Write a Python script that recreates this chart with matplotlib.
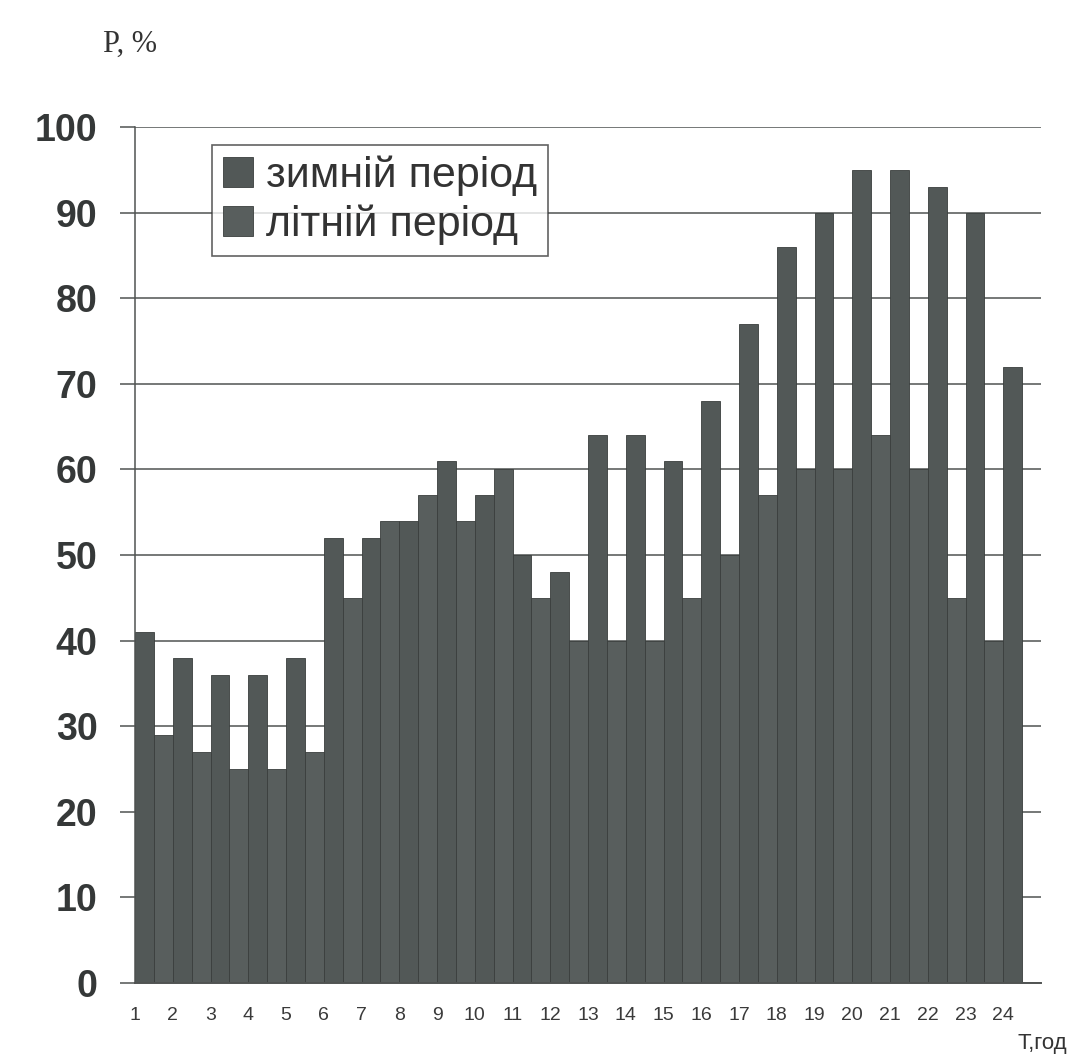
import numpy as np
import matplotlib
matplotlib.use('Agg')
import matplotlib.pyplot as plt

# значення
hours = list(range(1, 25))
winter = [41, 38, 36, 36, 38, 52, 52, 54, 61, 57, 50, 48,
          64, 64, 61, 68, 77, 86, 90, 95, 95, 93, 90, 72]
summer = [29, 27, 25, 25, 27, 45, 54, 57, 54, 60, 45, 40,
          40, 40, 45, 50, 57, 60, 60, 64, 60, 45, 40, np.nan]
y_ticks = list(range(0, 101, 10))
labels = ['зимній період', 'літній період']

plt.rcParams['font.family'] = ['Liberation Sans', 'DejaVu Sans']

fig = plt.figure(figsize=(10.74, 10.54), dpi=100)
ax = fig.add_axes([0.1257, 0.0674, 0.8436, 0.8121])

x = np.array(hours)
ax.bar(x - 0.25, winter, width=0.5, color='#525857', edgecolor='#3a3e3d',
       linewidth=0.6, label=labels[0], zorder=3)
ax.bar(x + 0.25, summer, width=0.5, color='#585e5d', edgecolor='#3a3e3d',
       linewidth=0.6, label=labels[1], zorder=3)

ax.set_xlim(0.5, 24.5)
ax.set_ylim(0, 100)
ax.set_yticks(y_ticks)
ax.set_yticklabels([str(v) for v in y_ticks], fontsize=27, fontweight='bold',
                   color='#353838')
ax.set_xticks(x - 0.5)
ax.set_xticklabels([str(h) for h in hours], fontsize=14, color='#3a3a3a')

ax.yaxis.grid(True, color='#505352', linewidth=1.1, zorder=1)
ax.set_axisbelow(True)
for s in ['top', 'right', 'bottom']:
    ax.spines[s].set_visible(False)
ax.spines['left'].set_color('#505352')
ax.spines['left'].set_linewidth(1.1)
ax.spines['left'].set_zorder(4)
ax.tick_params(axis='y', length=11, width=1.1, color='#505352', pad=16)
ax.tick_params(axis='x', length=0, pad=17)

# нульова лінія поверх стовпців
ax.axhline(0, color='#505352', linewidth=1.4, zorder=4, clip_on=False)

leg = ax.legend(loc='upper left', bbox_to_anchor=(0.085, 0.979), borderaxespad=0,
                fontsize=31, frameon=True, fancybox=False, handlelength=0.7,
                handleheight=0.7, handletextpad=0.3, labelspacing=0.2,
                borderpad=0.25)
leg.get_frame().set_edgecolor('#3a3a3a')
leg.get_frame().set_linewidth(1.2)
for t in leg.get_texts():
    t.set_color('#333333')

fig.text(0.096, 0.9507, 'P, %', fontsize=22, family=['Liberation Serif', 'DejaVu Serif'],
         color='#333333', va='baseline', ha='left')
fig.text(0.9935, 0.0047, 'Т,год', fontsize=16, color='#333333', va='baseline', ha='right')

fig.savefig('out.png', dpi=100, facecolor='white')
